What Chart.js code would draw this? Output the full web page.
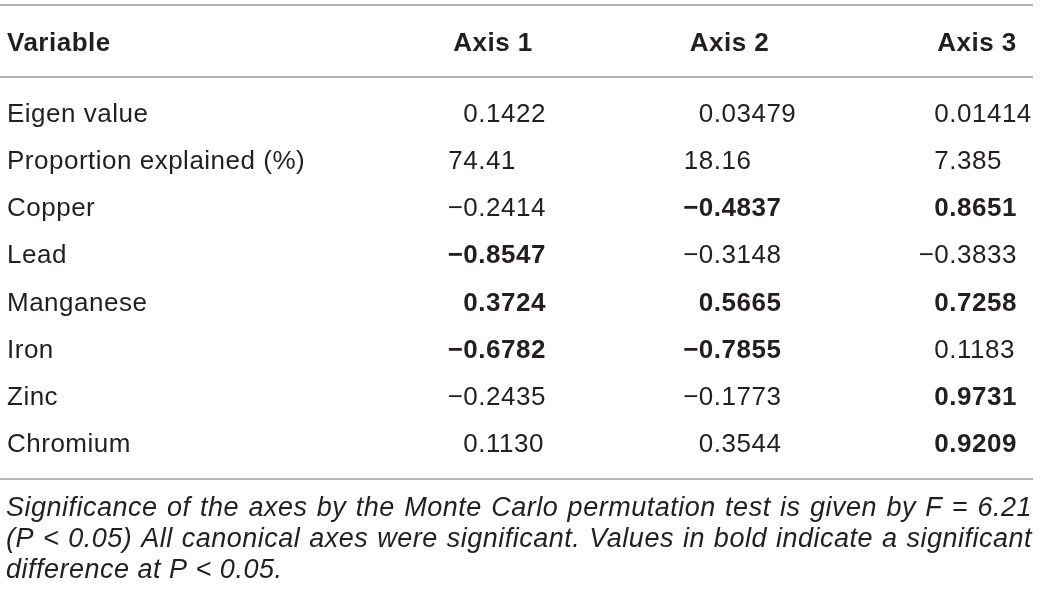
<!DOCTYPE html>
<html lang="en">
<head>
    <meta charset="UTF-8">
    <title>Canonical axes table</title>
    <script src="https://cdn.jsdelivr.net/npm/chart.js"></script>
    <style>
        html, body { margin: 0; padding: 0; background: #fff; }
    </style>
</head>
<body>
    <canvas id="myChart" width="1040" height="597"></canvas>
    <script>
        const columns = ['Variable', 'Axis 1', 'Axis 2', 'Axis 3'];
        const variables = ['Eigen value', 'Proportion explained (%)', 'Copper', 'Lead', 'Manganese', 'Iron', 'Zinc', 'Chromium'];
        const axis1 = ['0.1422', '74.41', '\u22120.2414', '\u22120.8547', '0.3724', '\u22120.6782', '\u22120.2435', '0.1130'];
        const axis2 = ['0.03479', '18.16', '\u22120.4837', '\u22120.3148', '0.5665', '\u22120.7855', '\u22120.1773', '0.3544'];
        const axis3 = ['0.01414', '7.385', '0.8651', '\u22120.3833', '0.7258', '0.1183', '0.9731', '0.9209'];
        const axis1Bold = [false, false, false, true, true, true, false, false];
        const axis2Bold = [false, false, true, false, true, true, false, false];
        const axis3Bold = [false, false, true, false, true, false, true, true];
        const footnote = [
            'Significance of the axes by the Monte Carlo permutation test is given by F = 6.21',
            '(P < 0.05) All canonical axes were significant. Values in bold indicate a significant',
            'difference at P < 0.05.'
        ];

        const ink = '#231f20';
        const rule = '#9d9d9d';
        const family = '"Liberation Sans", Arial, sans-serif';

        // one dataset per axis column; each point sits at (column, row) on the scales
        const axisValues = [axis1, axis2, axis3];
        const axisBold = [axis1Bold, axis2Bold, axis3Bold];
        const datasets = axisValues.map((vals, c) => ({
            label: columns[c + 1],
            data: vals.map((v, r) => ({ x: c + 1, y: variables[r], text: v, bold: axisBold[c][r] })),
            pointRadius: 0
        }));

        const tablePlugin = {
            id: 'tableText',
            afterDraw(chart) {
                const ctx = chart.ctx;
                const xs = chart.scales.x;
                const ys = chart.scales.y;
                ctx.save();
                ctx.fillStyle = ink;
                ctx.textBaseline = 'alphabetic';
                ctx.letterSpacing = '0.5px';

                // rules
                const firstRow = ys.getPixelForValue(0);
                const lastRow = ys.getPixelForValue(variables.length - 1);
                ctx.strokeStyle = rule;
                ctx.lineWidth = 1.5;
                [firstRow - 117, firstRow - 45, lastRow + 27].forEach(y => {
                    ctx.beginPath();
                    ctx.moveTo(0, y);
                    ctx.lineTo(1033, y);
                    ctx.stroke();
                });

                // header
                const headY = firstRow - 71;
                ctx.font = 'bold 26px ' + family;
                ctx.textAlign = 'left';
                ctx.fillText(columns[0], 7, headY);
                ctx.textAlign = 'center';
                const headShift = [7, 8, 20];
                for (let c = 1; c <= 3; c++) {
                    ctx.fillText(columns[c], xs.getPixelForValue(c) + headShift[c - 1], headY);
                }

                // row labels
                ctx.textAlign = 'left';
                ctx.font = '26px ' + family;
                variables.forEach((v, r) => ctx.fillText(v, 7, ys.getPixelForValue(r)));

                // numbers, aligned on the decimal point
                chart.data.datasets.forEach((ds, i) => {
                    chart.getDatasetMeta(i).data.forEach((pt, j) => {
                        const d = ds.data[j];
                        ctx.font = (d.bold ? 'bold ' : '') + '26px ' + family;
                        const head = d.text.slice(0, d.text.indexOf('.') + 1);
                        ctx.fillText(d.text, pt.x - ctx.measureText(head).width, pt.y);
                    });
                });

                // footnote, justified except the last line
                ctx.font = 'italic 27px ' + family;
                ctx.letterSpacing = '0.5px';
                const left = 6, right = 1032;
                footnote.forEach((line, k) => {
                    const y = lastRow + 64 + k * 31;
                    if (k === footnote.length - 1) {
                        ctx.fillText(line, left, y);
                        return;
                    }
                    const words = line.split(' ');
                    const widths = words.map(w => ctx.measureText(w).width);
                    const gap = (right - left - widths.reduce((a, b) => a + b, 0)) / (words.length - 1);
                    let x = left;
                    words.forEach((w, i) => {
                        ctx.fillText(w, x, y);
                        x += widths[i] + gap;
                    });
                });
                ctx.restore();
            }
        };

        new Chart(document.getElementById('myChart').getContext('2d'), {
            type: 'scatter',
            data: { labels: variables, datasets },
            options: {
                responsive: false,
                animation: false,
                layout: { padding: { left: 486, right: 83, top: 122, bottom: 145 } },
                scales: {
                    x: { type: 'linear', min: 1, max: 3, display: false },
                    y: { type: 'category', labels: variables, offset: false, display: false }
                },
                plugins: {
                    legend: { display: false },
                    tooltip: { enabled: false }
                }
            },
            plugins: [tablePlugin]
        });
    </script>
</body>
</html>
